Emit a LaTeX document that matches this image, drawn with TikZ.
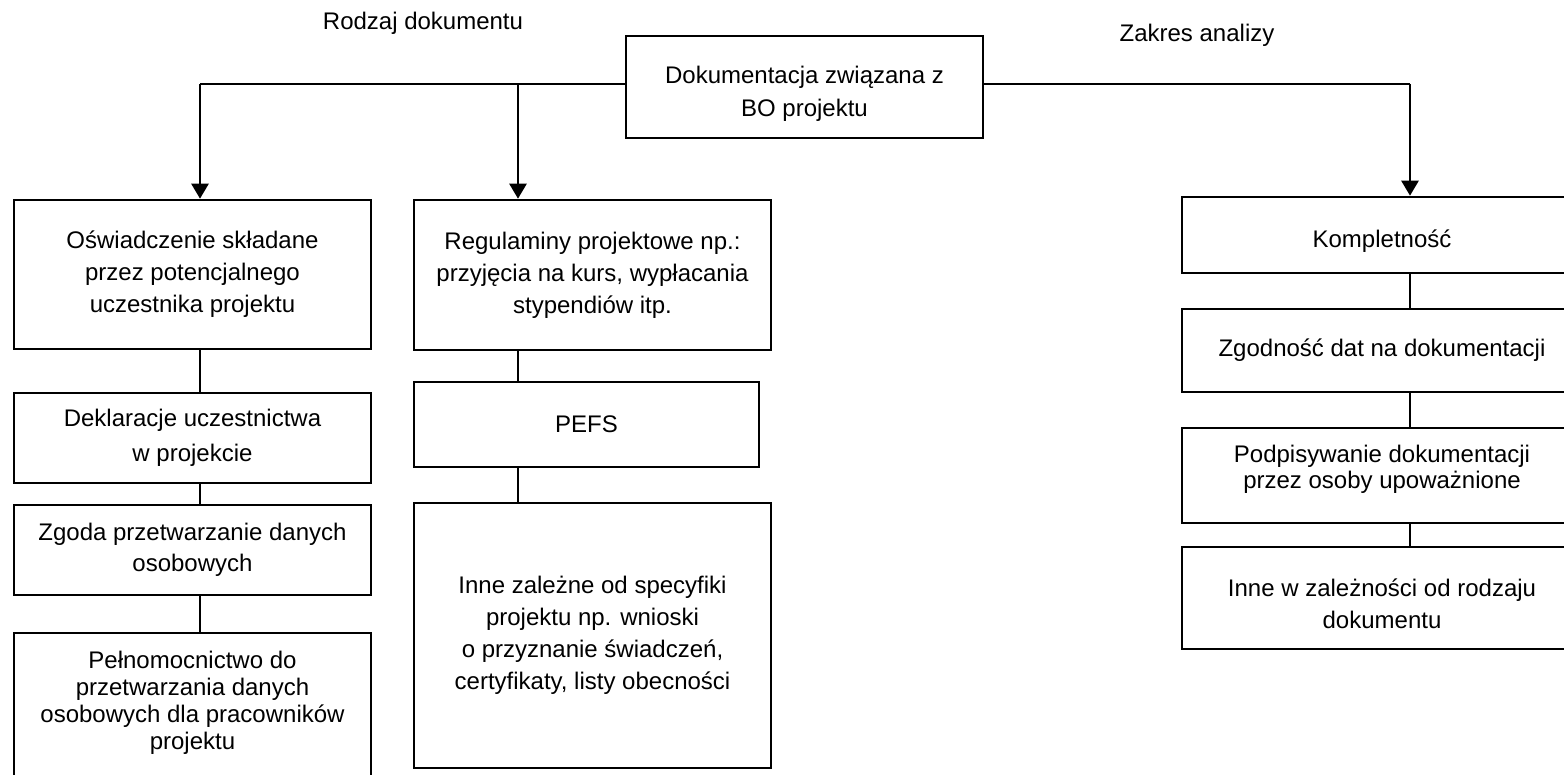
\documentclass[tikz,border=0pt]{standalone}
\usepackage{fontspec}
\setmainfont{Liberation Sans}
\usetikzlibrary{arrows.meta}
\begin{document}
\begin{tikzpicture}[x=0.5pt,y=-0.5pt]
\tikzset{
  box/.style={draw, line width=1.3pt, align=center, inner sep=0pt,
              font=\fontsize{12}{16}\selectfont},
  boxtext/.style={align=center, inner sep=0pt, font=\fontsize{12}{16}\selectfont},
  hline/.style={line width=0.85pt},
  link/.style={line width=0.85pt},
  arrowline/.style={line width=1.3pt, -{Triangle[width=8.5pt,length=7.5pt]}},
  caption/.style={anchor=base, font=\fontsize{12}{14}\selectfont},
}
\useasboundingbox (0,0) rectangle (1564,775);

% headings
\node[caption] (lblL) at (423,30) {Rodzaj dokumentu};
\node[caption] (lblR) at (1197,42) {Zakres analizy};

% root
\node[box, minimum width=178.5pt, minimum height=51pt] (top) at (804.5,87) {};
\node[boxtext, font=\fontsize{12}{16.5}\selectfont] (topt) at (804.5,94)
  {Dokumentacja związana z\\BO projektu};

% left column: document types
\node[box, minimum width=178.5pt, minimum height=74.5pt] (l1) at (192.5,274.5)
  {Oświadczenie składane\\przez potencjalnego\\uczestnika projektu};
\node[box, minimum width=178.5pt, minimum height=45pt,
      font=\fontsize{12}{17.5}\selectfont] (l2) at (192.5,438)
  {Deklaracje uczestnictwa\\w projekcie};
\node[box, minimum width=178.5pt, minimum height=45pt,
      font=\fontsize{12}{15.5}\selectfont] (l3) at (192.5,550)
  {Zgoda przetwarzanie danych\\osobowych};
\node[box, minimum width=178.5pt, minimum height=73.5pt] (l4) at (192.5,706.5) {};
\node[boxtext, font=\fontsize{12}{13.5}\selectfont] (l4t) at (192.5,703)
  {Pełnomocnictwo do\\przetwarzania danych\\osobowych dla pracowników\\projektu};

% middle column
\node[box, minimum width=178.5pt, minimum height=75pt] (m1) at (592.5,275)
  {Regulaminy projektowe np.:\\przyjęcia na kurs, wypłacania\\stypendiów itp.};
\node[box, minimum width=172.5pt, minimum height=42.5pt] (m2) at (586.5,424.5) {PEFS};
\node[box, minimum width=178.5pt, minimum height=132.5pt] (m3) at (592.5,635.5)
  {Inne zależne od specyfiki\\projektu np. wnioski\\o przyznanie świadczeń,\\certyfikaty, listy obecności};

% right column: scope of analysis
\node[box, minimum width=200pt, minimum height=38pt] (r1) at (1382,235) {};
\node[boxtext] (r1t) at (1382,241) {Kompletność};
\node[box, minimum width=200pt, minimum height=41.5pt] (r2) at (1382,350.5)
  {Zgodność dat na dokumentacji};
\node[box, minimum width=200pt, minimum height=47.5pt] (r3) at (1382,475.5) {};
\node[boxtext, font=\fontsize{12}{13}\selectfont] (r3t) at (1382,469.5)
  {Podpisywanie dokumentacji\\przez osoby upoważnione};
\node[box, minimum width=200pt, minimum height=51pt] (r4) at (1382,598) {};
\node[boxtext] (r4t) at (1382,603.5)
  {Inne w zależności od rodzaju\\dokumentu};

% branching points on the top rail
\coordinate (jl) at (200,84);
\coordinate (jm) at (518,84);
\coordinate (jr) at (1410,84);

\draw[hline] ([yshift=1.5pt]top.west) -- (jl);
\draw[hline] ([yshift=1.5pt]top.east) -- (jr);
\draw[arrowline] (jl) -- (jl |- l1.north);
\draw[arrowline] (jm) -- (jm |- m1.north);
\draw[arrowline] (jr) -- (jr |- r1.north);

% column links
\draw[link] (jl |- l1.south) -- (jl |- l2.north);
\draw[link] (jl |- l2.south) -- (jl |- l3.north);
\draw[link] (jl |- l3.south) -- (jl |- l4.north);
\draw[link] (jm |- m1.south) -- (jm |- m2.north);
\draw[link] (jm |- m2.south) -- (jm |- m3.north);
\draw[link] (jr |- r1.south) -- (jr |- r2.north);
\draw[link] (jr |- r2.south) -- (jr |- r3.north);
\draw[link] (jr |- r3.south) -- (jr |- r4.north);
\end{tikzpicture}
\end{document}
